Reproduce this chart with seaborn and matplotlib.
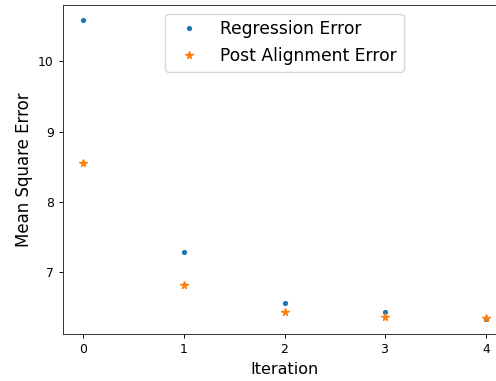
import matplotlib
matplotlib.use("Agg")
import matplotlib.pyplot as plt
import seaborn as sns
import pandas as pd

iterations = [0, 1, 2, 3, 4]
regression_error = [10.59, 7.29, 6.56, 6.43, 6.33]
post_alignment_error = [8.55, 6.81, 6.43, 6.36, 6.35]

sns.set_style("ticks")
plt.rcParams['font.family'] = ['DejaVu Sans']

fig = plt.figure(figsize=(4.96, 3.81), dpi=100)
ax = fig.add_axes([63/496, (381-334)/381, 443/496, 329/381])

df = pd.DataFrame({"Iteration": iterations,
                   "Regression Error": regression_error,
                   "Post Alignment Error": post_alignment_error})

ax.plot(df["Iteration"], df["Regression Error"], linestyle="none", marker=".",
        markersize=5.5, color=sns.color_palette()[0], label="Regression Error")
ax.plot(df["Iteration"], df["Post Alignment Error"], linestyle="none", marker="*",
        markersize=5.3, color=sns.color_palette()[1], label="Post Alignment Error")

ax.set_xticks([0, 1, 2, 3, 4])
ax.set_yticks([7, 8, 9, 10])
ax.tick_params(labelsize=8.9, length=3.1, width=0.7, color="black", labelcolor="black")
for s in ax.spines.values():
    s.set_linewidth(0.7)
    s.set_color("#333333")
ax.set_xlabel("Iteration", fontsize=11.5, color="black")
ax.set_ylabel("Mean Square Error", fontsize=12, color="black")
leg = ax.legend(loc="upper center", fontsize=12.3, numpoints=1, frameon=True)
for t in leg.get_texts():
    t.set_color("black")

fig.savefig("out.png", dpi=100)
